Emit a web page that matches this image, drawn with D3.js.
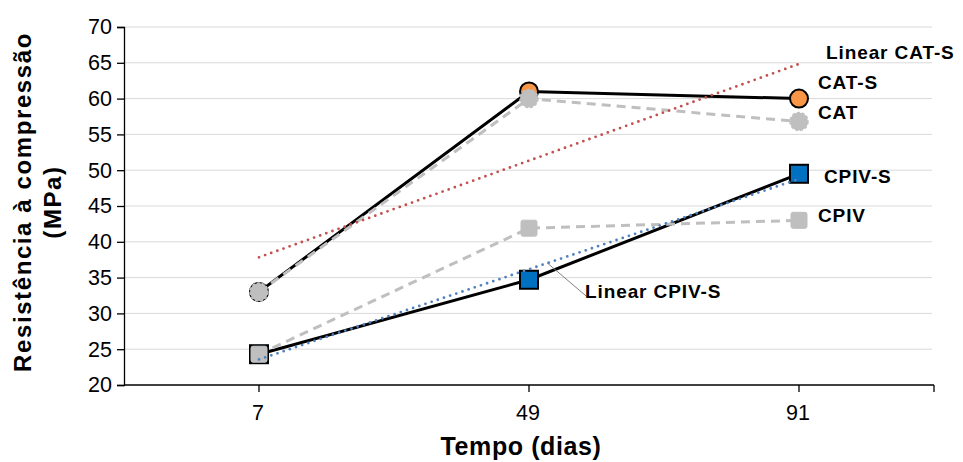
<!DOCTYPE html>
<html><head><meta charset="utf-8">
<script src="https://cdn.jsdelivr.net/npm/d3@7"></script>
<style>
html,body{margin:0;padding:0;background:#fff;}
svg{display:block;font-family:Arial,"Liberation Sans",sans-serif;}
</style></head>
<body><svg id="c" width="963" height="462"></svg>
<script>
const categories = ["7", "49", "91"];
const catS = [33.0, 61.0, 60.0];
const cat = [33.0, 60.0, 56.8];
const cpivS = [24.3, 34.7, 49.5];
const cpiv = [24.3, 41.9, 43.0];
const yTicks = [20, 25, 30, 35, 40, 45, 50, 55, 60, 65, 70];

const svg = d3.select("#c");
const L = 124, R = 934, T = 27, B = 385;
const x = d3.scaleBand().domain(categories).range([L, R]).padding(0);
const cx = c => x(c) + x.bandwidth() / 2;
const y = d3.scaleLinear().domain([20, 70]).range([B, T]);

// gridlines
svg.append("g").selectAll("line").data(yTicks.slice(1)).join("line")
  .attr("x1", L).attr("x2", R - 2).attr("y1", d => y(d)).attr("y2", d => y(d))
  .attr("stroke", "#D9D9D9").attr("stroke-width", 1);

// y axis
const ya = svg.append("g").attr("transform", `translate(${L},0)`)
  .call(d3.axisLeft(y).tickValues(yTicks).tickSize(7).tickPadding(5));
ya.select(".domain").attr("stroke", "#000").attr("stroke-width", 1.3);
ya.selectAll(".tick line").attr("stroke", "#000").attr("stroke-width", 1.3);
ya.selectAll(".tick text").attr("font-size", 21.5).attr("fill", "#000").attr("font-family", "Arial, 'Liberation Sans', sans-serif");

// x axis
const xa = svg.append("g").attr("transform", `translate(0,${B})`);
xa.append("line").attr("x1", L).attr("x2", R).attr("stroke", "#000").attr("stroke-width", 1.3);
xa.selectAll("line.t").data(categories).join("line").attr("class", "t")
  .attr("x1", d => cx(d)).attr("x2", d => cx(d)).attr("y1", 0).attr("y2", 7)
  .attr("stroke", "#000").attr("stroke-width", 1.3);
xa.append("line").attr("x1", R).attr("x2", R).attr("y1", 0).attr("y2", 7).attr("stroke", "#000").attr("stroke-width", 1.3);
xa.selectAll("text").data(categories).join("text")
  .attr("x", d => cx(d) - 1).attr("y", 28).attr("dominant-baseline", "central")
  .attr("text-anchor", "middle").attr("font-size", 21.5).text(d => d);

// axis titles
svg.append("text").attr("x", 521).attr("y", 446).attr("dominant-baseline", "central")
  .attr("text-anchor", "middle").attr("font-size", 25).attr("letter-spacing", 0.6)
  .attr("font-weight", "bold").text("Tempo (dias)");
const yt = svg.append("text").attr("transform", `translate(22,${(T + B) / 2 - 4}) rotate(-90)`)
  .attr("text-anchor", "middle").attr("font-size", 24).attr("letter-spacing", 1.6).attr("font-weight", "bold");
yt.append("tspan").attr("x", 0).attr("dy", 0).attr("dominant-baseline", "central").text("Resistência à compressão");
yt.append("tspan").attr("x", 0).attr("dy", 30).attr("dominant-baseline", "central").text("(MPa)");

const line = d3.line().x((d, i) => cx(categories[i])).y(d => y(d));

// series lines
svg.append("path").attr("d", line(catS)).attr("fill", "none").attr("stroke", "#000").attr("stroke-width", 3);
svg.append("path").attr("d", line(cat)).attr("fill", "none").attr("stroke", "#BFBFBF").attr("stroke-width", 3).attr("stroke-dasharray", "9,6");
svg.append("path").attr("d", line(cpivS)).attr("fill", "none").attr("stroke", "#000").attr("stroke-width", 3);
svg.append("path").attr("d", line(cpiv)).attr("fill", "none").attr("stroke", "#BFBFBF").attr("stroke-width", 3).attr("stroke-dasharray", "9,6");

// markers
svg.append("g").selectAll("circle").data(catS).join("circle")
  .attr("cx", (d, i) => cx(categories[i])).attr("cy", d => y(d)).attr("r", 9)
  .attr("fill", "#F79646").attr("stroke", "#000").attr("stroke-width", 2);
svg.append("g").selectAll("circle").data(cat).join("circle")
  .attr("cx", (d, i) => cx(categories[i])).attr("cy", d => y(d)).attr("r", 9)
  .attr("fill", "#BFBFBF").attr("stroke", "#BFBFBF").attr("stroke-width", 1.5).attr("stroke-dasharray", "3,2");
const sq = 18;
svg.append("g").selectAll("rect").data(cpivS).join("rect")
  .attr("x", (d, i) => cx(categories[i]) - sq / 2).attr("y", d => y(d) - sq / 2).attr("width", sq).attr("height", sq)
  .attr("fill", "#0070C0").attr("stroke", "#000").attr("stroke-width", 2);
svg.append("g").selectAll("rect").data(cpiv).join("rect")
  .attr("x", (d, i) => cx(categories[i]) - 8).attr("y", d => y(d) - 8).attr("width", 16).attr("height", 16).attr("rx", 2)
  .attr("fill", "#BFBFBF").attr("stroke", "#BFBFBF").attr("stroke-width", 1);

// linear trendlines (least squares over category index)
function trend(vals) {
  const xs = vals.map((v, i) => i + 1);
  const mx = d3.mean(xs), my = d3.mean(vals);
  const b = d3.sum(xs, (xv, i) => (xv - mx) * (vals[i] - my)) / d3.sum(xs, xv => (xv - mx) ** 2);
  const a = my - b * mx;
  return [[0, a + b * 1], [vals.length - 1, a + b * vals.length]];
}
const tl = d3.line().x(d => cx(categories[d[0]])).y(d => y(d[1]));
const tCat = trend(catS), tCpiv = trend(cpivS);
svg.append("path").attr("d", tl(tCat)).attr("fill", "none").attr("stroke", "#C0504D").attr("stroke-width", 2.8)
  .attr("stroke-dasharray", "0,6.5").attr("stroke-linecap", "round");
svg.append("path").attr("d", tl(tCpiv)).attr("fill", "none").attr("stroke", "#4F81BD").attr("stroke-width", 2.8)
  .attr("stroke-dasharray", "0,6.5").attr("stroke-linecap", "round");

// labels
const last = categories[categories.length - 1];
function lab(xp, yp, t) {
  svg.append("text").attr("x", xp).attr("y", yp).attr("dominant-baseline", "central")
    .attr("font-size", 19).attr("letter-spacing", 0.9).attr("font-weight", "bold").text(t);
}
lab(cx(last) + 27, y(tCat[1][1]) - 11, "Linear CAT-S");
lab(cx(last) + 19, y(catS[2]) - 16, "CAT-S");
lab(cx(last) + 19, y(cat[2]) - 9, "CAT");
lab(cx(last) + 25, y(cpivS[2]) + 3, "CPIV-S");
lab(cx(last) + 19, y(cpiv[2]) - 5, "CPIV");
const mid = categories[1];
svg.append("line").attr("x1", cx(mid) + 18).attr("y1", y(cpivS[1]) - 17).attr("x2", cx(mid) + 58).attr("y2", y(cpivS[1]) + 17)
  .attr("stroke", "#808080").attr("stroke-width", 1);
lab(cx(mid) + 56, y(cpivS[1]) + 12, "Linear CPIV-S");
</script></body></html>
